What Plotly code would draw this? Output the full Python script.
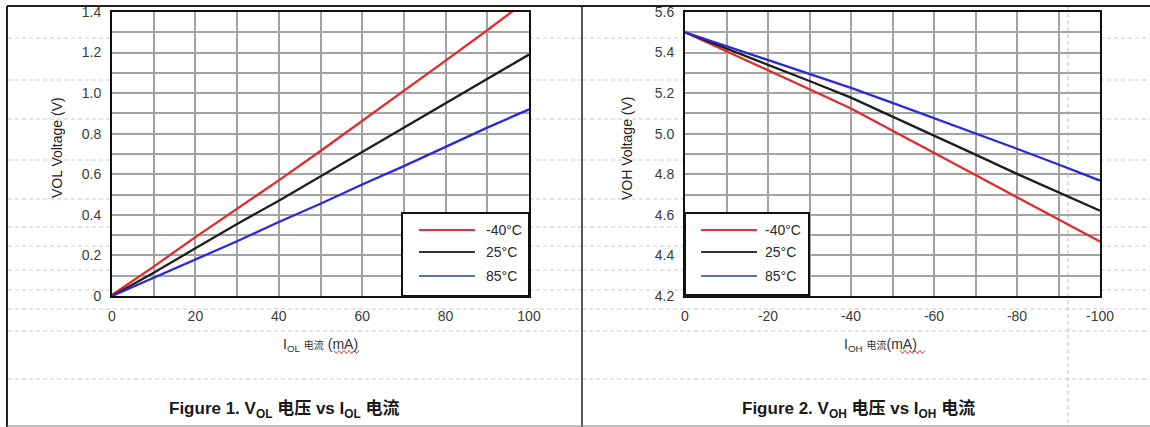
import plotly.graph_objects as go

# ---------------- data ----------------
iol = [0, 10, 20, 30, 40, 50, 60, 70, 80, 90, 100]
vol_m40 = [0.005, 0.145, 0.29, 0.43, 0.57, 0.715, 0.862, 1.01, 1.16, 1.31, 1.465]
vol_25 = [0.0, 0.115, 0.235, 0.355, 0.47, 0.59, 0.71, 0.83, 0.95, 1.07, 1.19]
vol_85 = [0.0, 0.09, 0.18, 0.27, 0.365, 0.455, 0.55, 0.64, 0.735, 0.83, 0.92]

ioh = [0, -10, -20, -30, -40, -50, -60, -70, -80, -90, -100]
voh_m40 = [5.50, 5.407, 5.313, 5.219, 5.124, 5.016, 4.907, 4.797, 4.687, 4.578, 4.469]
voh_25 = [5.50, 5.421, 5.341, 5.26, 5.178, 5.085, 4.991, 4.897, 4.802, 4.711, 4.62]
voh_85 = [5.50, 5.432, 5.364, 5.296, 5.226, 5.152, 5.077, 5.002, 4.926, 4.848, 4.769]

temps = ["-40°C", "25°C", "85°C"]

x1_grid = [0, 10, 20, 30, 40, 50, 60, 70, 80, 90, 100]
x1_labels = ["0", "", "20", "", "40", "", "60", "", "80", "", "100"]
y1_grid = [0, 0.1, 0.2, 0.3, 0.4, 0.5, 0.6, 0.7, 0.8, 0.9, 1.0, 1.1, 1.2, 1.3, 1.4]
y1_labels = ["0", "", "0.2", "", "0.4", "", "0.6", "", "0.8", "", "1.0", "", "1.2", "", "1.4"]
x2_grid = [0, -10, -20, -30, -40, -50, -60, -70, -80, -90, -100]
x2_labels = ["0", "", "-20", "", "-40", "", "-60", "", "-80", "", "-100"]
y2_grid = [4.2, 4.3, 4.4, 4.5, 4.6, 4.7, 4.8, 4.9, 5.0, 5.1, 5.2, 5.3, 5.4, 5.5, 5.6]
y2_labels = ["4.2", "", "4.4", "", "4.6", "", "4.8", "", "5.0", "", "5.2", "", "5.4", "", "5.6"]

# ---------------- styles ----------------
W, H = 1150, 427
line_colors = ["#e22a2a", "#1e1e1e", "#2a2ad6"]
legend_colors = ["#ff2a2a", "#333333", "#5a76a8"]
FONT = "Arial, 'Liberation Sans', 'Noto Sans CJK SC', sans-serif"
TICK_COLOR = "#3c3c3c"
GRID = "#a3a3a3"


def px(x):
    return x / W


def py(y):
    return 1 - y / H


fig = go.Figure()

for vals, c in zip([vol_m40, vol_25, vol_85], line_colors):
    fig.add_trace(go.Scatter(x=iol, y=vals, mode="lines", xaxis="x", yaxis="y",
                             line=dict(color=c, width=2.3), showlegend=False))
for vals, c in zip([voh_m40, voh_25, voh_85], line_colors):
    fig.add_trace(go.Scatter(x=ioh, y=vals, mode="lines", xaxis="x2", yaxis="y2",
                             line=dict(color=c, width=2.3), showlegend=False))

axis_common = dict(showgrid=True, gridcolor=GRID, gridwidth=1.6, zeroline=False,
                   showline=True, mirror=True, linecolor="#111111", linewidth=2,
                   ticks="", automargin=False,
                   tickfont=dict(family=FONT, size=14, color=TICK_COLOR))

yd = [py(296), py(12)]
fig.update_layout(
    width=W, height=H, margin=dict(l=0, r=0, t=0, b=0, autoexpand=False),
    paper_bgcolor="white", plot_bgcolor="white", showlegend=False,
    xaxis=dict(domain=[px(112), px(529)], range=[0, 100], tickvals=x1_grid, ticktext=x1_labels,
               anchor="y", ticklabelstandoff=6, **axis_common),
    yaxis=dict(domain=yd, range=[0, 1.4], tickvals=y1_grid, ticktext=y1_labels,
               anchor="x", ticklabelstandoff=6, **axis_common),
    xaxis2=dict(domain=[px(685), px(1100)], range=[0, -100], tickvals=x2_grid, ticktext=x2_labels,
                anchor="y2", ticklabelstandoff=6, **axis_common),
    yaxis2=dict(domain=yd, range=[4.2, 5.6], tickvals=y2_grid, ticktext=y2_labels,
                anchor="x2", ticklabelstandoff=6, **axis_common),
)

shapes = []
# page dashed guide lines (outside plot areas)
page_rows = [38, 80, 119, 160, 199, 227, 246, 270, 290, 309, 331, 379]
for yy in page_rows:
    if 12 <= yy <= 296:
        segs = [(8, 112), (529, 582), (583, 685), (1100, 1150)]
    else:
        segs = [(8, 1150)]
    for a, b in segs:
        shapes.append(dict(type="line", xref="paper", yref="paper", x0=px(a), x1=px(b),
                           y0=py(yy), y1=py(yy), layer="below",
                           line=dict(color="#c9c9c9", width=1.2, dash="4px,3px")))
# vertical dashed page margin
shapes.append(dict(type="line", xref="paper", yref="paper", x0=px(1068), x1=px(1068),
                   y0=py(6), y1=py(427), layer="below",
                   line=dict(color="#c9c9c9", width=1.2, dash="4px,3px")))
# table borders
shapes += [
    dict(type="line", xref="paper", yref="paper", x0=px(7), x1=1, y0=py(6), y1=py(6),
         line=dict(color="#222222", width=2)),
    dict(type="line", xref="paper", yref="paper", x0=px(7), x1=px(7), y0=py(6), y1=0,
         line=dict(color="#222222", width=2)),
    dict(type="line", xref="paper", yref="paper", x0=px(582), x1=px(582), y0=py(6), y1=0,
         line=dict(color="#222222", width=1.5)),
    dict(type="line", xref="paper", yref="paper", x0=px(7), x1=1, y0=py(426), y1=py(426),
         line=dict(color="#888888", width=1.2)),
]


# spell-check style wavy underline under "(mA)"
def wavy(x0, x1, y, amp=1.5, step=2.5):
    pts = []
    x = x0
    k = 0
    while x <= x1:
        yy = y + (amp if k % 2 else -amp)
        pts.append(f"{px(x):.5f},{py(yy):.5f}")
        x += step
        k += 1
    return dict(type="path", xref="paper", yref="paper", path="M" + " L".join(pts),
                line=dict(color="#e03030", width=1))


shapes += [wavy(334, 360, 352), wavy(900, 925, 352)]

# legends (boxes + sample lines)
legend_specs = [
    dict(box=(402, 213, 529, 296), lx=(419, 475), tx=484),
    dict(box=(685, 213, 809, 295), lx=(701, 757), tx=763),
]
legend_rows = [230, 252, 276]
annotations = []
for spec in legend_specs:
    bx0, by0, bx1, by1 = spec["box"]
    shapes.append(dict(type="rect", xref="paper", yref="paper", x0=px(bx0), x1=px(bx1),
                       y0=py(by1), y1=py(by0), fillcolor="white", layer="above",
                       line=dict(color="#111111", width=2)))
    for name, c, ry in zip(temps, legend_colors, legend_rows):
        shapes.append(dict(type="line", xref="paper", yref="paper", x0=px(spec["lx"][0]),
                           x1=px(spec["lx"][1]), y0=py(ry), y1=py(ry), layer="above",
                           line=dict(color=c, width=1.8)))
        annotations.append(dict(xref="paper", yref="paper", x=px(spec["tx"]), y=py(ry),
                                xanchor="left", yanchor="middle", showarrow=False, text=name,
                                font=dict(family=FONT, size=14, color="#2a2a2a")))


def center_note(x, y, text, size, color, angle=0):
    return dict(xref="paper", yref="paper", x=px(x), y=py(y), xanchor="center",
                yanchor="middle", textangle=angle, showarrow=False, text=text,
                font=dict(family=FONT, size=size, color=color))


# axis titles
annotations += [
    center_note(57, 148, "VOL Voltage (V)", 14, "#222222", -90),
    center_note(627, 148, "VOH Voltage (V)", 14, "#222222", -90),
    center_note(320, 345, "I<sub>OL</sub> <span style='font-size:10px'>电流</span> (mA)", 14, "#333333"),
    center_note(880, 345, "I<sub>OH</sub> <span style='font-size:10px'>电流</span>(mA)", 14, "#333333"),
    center_note(284, 410, "<b>Figure 1. V<sub>OL</sub> 电压 vs I<sub>OL</sub> 电流</b>", 17, "#1a1a1a"),
    center_note(858, 410, "<b>Figure 2. V<sub>OH</sub> 电压 vs I<sub>OH</sub> 电流</b>", 17, "#1a1a1a"),
]

fig.update_layout(shapes=shapes, annotations=annotations)
fig.write_html("out.html", config={"displayModeBar": False},
               post_script="document.body.style.margin='0px';document.body.style.overflow='hidden';")
